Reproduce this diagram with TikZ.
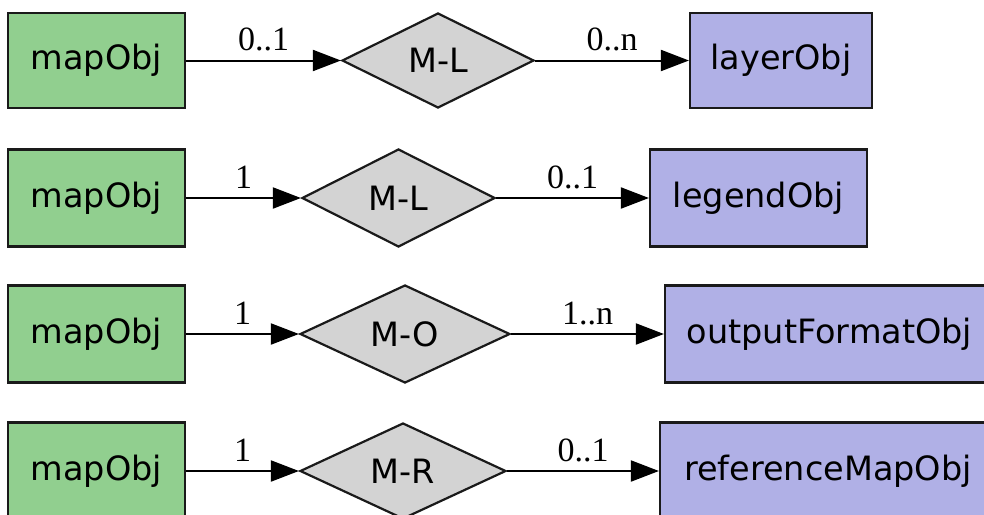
\documentclass[tikz,border=0pt]{standalone}
\usepackage{fontspec}
\setmainfont{DejaVu Sans}
\newfontfamily\labelfont{Liberation Serif}
\usetikzlibrary{shapes.geometric,arrows.meta}
\definecolor{boxgreen}{HTML}{91CF8F}
\definecolor{boxpurple}{HTML}{B0B0E6}
\definecolor{diagray}{HTML}{D3D3D3}
\definecolor{edgeline}{HTML}{1A1A1A}
\tikzset{
  srcbox/.style={draw=edgeline, line width=2.2pt, fill=boxgreen, rectangle, inner sep=0pt,
    minimum width=177pt, font=\fontsize{33.5}{36}\selectfont},
  dstbox/.style={draw=edgeline, line width=2.2pt, fill=boxpurple, rectangle, inner sep=0pt,
    font=\fontsize{33.5}{36}\selectfont},
  relbox/.style={draw=edgeline, line width=2.2pt, fill=diagray, diamond, shape aspect=2, inner sep=0pt,
    font=\fontsize{33.5}{36}\selectfont},
  conn/.style={line width=2pt, black, -{Triangle[length=28pt, width=21pt]}},
  card/.style={midway, anchor=base, yshift=10pt, inner sep=0pt, font=\labelfont\fontsize{34}{36}\selectfont}
}
\begin{document}
\begin{tikzpicture}[x=1pt, y=-1pt]
\clip (0,0) rectangle (984,514);
\fill[white] (0,0) rectangle (984,514);
% row 1
\node[srcbox, minimum height=95pt] (m1) at (96.5,60.5) {mapObj};
\node[relbox, minimum width=192pt, minimum height=95pt] (d1) at (438,60.5) {M-L};
\node[dstbox, minimum width=182pt, minimum height=95pt] (t1) at (781,60.5) {layerObj};
\draw[conn] (m1) -- (d1) node[card] {0..1};
\draw[conn] (d1) -- (t1) node[card] {0..n};
% row 2
\node[srcbox, minimum height=97pt] (m2) at (96.5,198) {mapObj};
\node[relbox, minimum width=193pt, minimum height=98pt] (d2) at (398.5,198) {M-L};
\node[dstbox, minimum width=217pt, minimum height=97pt] (t2) at (758.5,198) {legendObj};
\draw[conn] (m2) -- (d2) node[card] {1};
\draw[conn] (d2) -- (t2) node[card] {0..1};
% row 3
\node[srcbox, minimum height=97pt] (m3) at (96.5,334) {mapObj};
\node[relbox, minimum width=210pt, minimum height=98pt] (d3) at (405,334) {M-O};
\node[dstbox, minimum width=329pt, minimum height=97pt] (t3) at (829.5,334) {outputFormatObj};
\draw[conn] (m3) -- (d3) node[card] {1};
\draw[conn] (d3) -- (t3) node[card] {1..n};
% row 4
\node[srcbox, minimum height=97pt] (m4) at (96.5,471) {mapObj};
\node[relbox, minimum width=206pt, minimum height=96pt] (d4) at (403,471) {M-R};
\node[dstbox, minimum width=336pt, minimum height=97pt] (t4) at (828,471) {referenceMapObj};
\draw[conn] (m4) -- (d4) node[card] {1};
\draw[conn] (d4) -- (t4) node[card] {0..1};
\end{tikzpicture}
\end{document}
